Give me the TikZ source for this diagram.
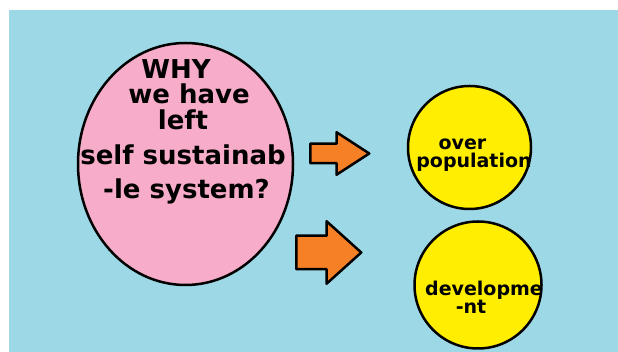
\documentclass[tikz,border=0pt]{standalone}
\usepackage{fontspec}
\setmainfont{DejaVu Sans}
\usetikzlibrary{shapes.geometric,shapes.arrows}
\definecolor{skyblue}{RGB}{157,216,231}
\definecolor{eggpink}{RGB}{247,172,202}
\definecolor{sunyellow}{RGB}{255,238,0}
\definecolor{arroworange}{RGB}{245,128,38}

\begin{document}
\begin{tikzpicture}
[x=1pt,y=1pt,line width=2.5pt]
\tikzstyle{pinkegg}=[ellipse,draw,fill=eggpink,inner sep=0pt,minimum width=215pt,minimum height=242pt]
\tikzstyle{yellowdisc}=[circle,draw,fill=sunyellow,inner sep=0pt]
\tikzstyle{blockarrow}=[single arrow,draw,fill=arroworange,inner xsep=0pt,line join=round,anchor=tail]
\tikzstyle{bigtext}=[font=\bfseries\fontsize{26}{26}\selectfont,align=center,inner sep=0pt,anchor=north]
\tikzstyle{smalltext}=[font=\bfseries\fontsize{19}{18}\selectfont,align=center,inner sep=0pt,anchor=north]
\useasboundingbox (0,0) rectangle (618,352);
\fill[white] (0,0) rectangle (618,352);
\fill[skyblue] (9,0) rectangle (618,342);
% the question
\node[pinkegg] (why) at (185.5,188) {};
\node[bigtext] (whytext) at (183,293.7)
{WHY\hspace*{14pt}\\[-1pt]\hspace*{12pt}we have\\[0pt]left\hspace*{8pt}\\[9pt]self sustainab\\[8pt]\hspace*{7pt}-le system?};
% arrows
\node[blockarrow,inner ysep=8.5pt,minimum height=59pt,single arrow head extend=11.5pt,single arrow tip angle=66] (arr1) at (309,198.5) {};
\node[blockarrow,inner ysep=15.5pt,minimum height=65pt,single arrow head extend=14.5pt,single arrow tip angle=84] (arr2) at (295,99.5) {};
% the answers
\node[yellowdisc,minimum size=123pt] (over) at (469.5,204.5) {};
\node[smalltext] (overtext) at (470,214.7) {over\hspace*{15pt}\\\hspace*{8pt}population};
\node[yellowdisc,minimum size=127pt] (dev) at (478,67) {};
\node[smalltext] (devtext) at (480,72) {\hspace*{8pt}developme\\[0pt]-nt\hspace*{18pt}};
\end{tikzpicture}
\end{document}
